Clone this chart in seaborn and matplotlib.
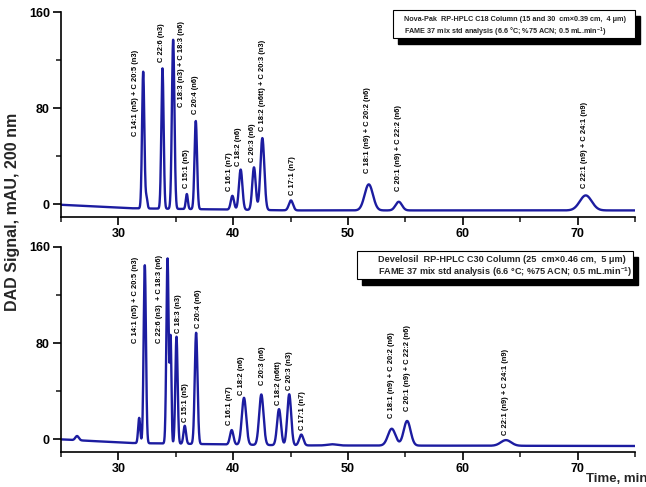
import numpy as np
import pandas as pd
import matplotlib
matplotlib.use("Agg")
import matplotlib.pyplot as plt
import seaborn as sns
from matplotlib.patches import Rectangle

# ---------------- data ----------------
# Top panel: Nova-Pak C18
top_rt = [32.16, 32.45, 33.84, 34.77, 35.96, 36.74, 39.93, 40.65, 41.81, 42.54, 45.03, 51.81, 54.42, 70.71]
top_height = [114, 9, 117, 141, 12.5, 73.5, 11.5, 33.5, 35.5, 60, 8.3, 21.7, 7.2, 12.5]
top_sigma = [0.10, 0.08, 0.10, 0.11, 0.09, 0.11, 0.14, 0.15, 0.15, 0.17, 0.18, 0.36, 0.28, 0.52]
top_base_t = [25, 31, 45, 75]
top_base_v = [-0.3, -3.2, -5.0, -5.0]

# Bottom panel: Develosil C30
bot_rt = [26.4, 31.81, 32.30, 34.28, 34.55, 35.06, 35.78, 36.77, 39.87, 40.94, 42.45, 43.99, 44.88, 45.93, 48.6, 53.81, 55.15, 63.76]
bot_height = [3.5, 21, 148, 154, 86, 89, 15, 92.5, 12, 39, 42, 30, 42.5, 9, 1.0, 14, 20.5, 4.7]
bot_sigma = [0.15, 0.09, 0.10, 0.10, 0.07, 0.10, 0.11, 0.12, 0.15, 0.19, 0.19, 0.17, 0.17, 0.18, 0.4, 0.33, 0.30, 0.45]
bot_base_t = [25, 31, 45, 75]
bot_base_v = [0.0, -3.0, -5.0, -5.5]

top_labels = ["C 14:1 (n5) + C 20:5 (n3)", "C 22:6 (n3)", "C 18:3 (n3) + C 18:3 (n6)", "C 15:1 (n5)",
              "C 20:4 (n6)", "C 16:1 (n7)", "C 18:2 (n6)", "C 20:3 (n6)",
              "C 18:2 (n6tt) + C 20:3 (n3)", "C 17:1 (n7)", "C 18:1 (n9) + C 20:2 (n6)",
              "C 20:1 (n9) + C 22:2 (n6)", "C 22:1 (n9) + C 24:1 (n9)"]
top_label_x = [31.52, 33.78, 35.52, 35.93, 36.74, 39.70, 40.50, 41.67, 42.54, 45.13, 51.67, 54.39, 70.63]
top_label_y = [57, 119, 81, 14, 75, 11, 32, 35, 61, 8, 26, 11, 14]

bot_labels = ["C 14:1 (n5) + C 20:5 (n3)", "C 22:6 (n3)  + C 18:3 (n6)", "C 18:3 (n3)", "C 15:1 (n5)",
              "C 20:4 (n6)", "C 16:1 (n7)", "C 18:2 (n6)", "C 20:3 (n6)", "C 18:2 (n6tt)",
              "C 20:3 (n3)", "C 17:1 (n7)", "C 18:1 (n9) + C 20:2 (n6)",
              "C 20:1 (n9) + C 22:2 (n6)", "C 22:1 (n9) + C 24:1 (n9)"]
bot_label_x = [31.50, 33.55, 35.20, 35.84, 36.97, 39.70, 40.71, 42.54, 43.98, 44.91, 46.02, 53.81, 55.15, 63.70]
bot_label_y = [80, 80, 88.6, 14.4, 92.5, 11.7, 36.7, 45, 28.3, 41.4, 8, 17.8, 24, 4]

top_box_lines = ["Nova-Pak  RP-HPLC C18 Column (15 and 30  cm\u00d70.39 cm,  4 \u03bcm)",
                 "FAME 37 mix std analysis (6.6 \u00b0C; %75 ACN; 0.5 mL.min$^{\\mathbf{-1}}$)"]
bot_box_lines = ["Develosil  RP-HPLC C30 Column (25  cm\u00d70.46 cm,  5 \u03bcm)",
                 "FAME 37 mix std analysis (6.6 \u00b0C; %75 ACN; 0.5 mL.min$^{\\mathbf{-1}}$)"]

x_ticks = [30, 40, 50, 60, 70]
x_minor = [25, 35, 45, 55, 65, 75]
y_ticks = [0, 80, 160]
y_minor = [40, 120]

# ---------------- styling ----------------
sns.set_theme(style="ticks")
plt.rcParams["font.family"] = ["Liberation Sans", "DejaVu Sans"]
plt.rcParams["mathtext.fontset"] = "custom"
plt.rcParams["mathtext.rm"] = "Liberation Sans"
plt.rcParams["mathtext.bf"] = "Liberation Sans:bold"

LINE = "#1c1ca0"
W, H = 646, 487
fig = plt.figure(figsize=(6.46, 4.87), dpi=100)

def fx(px):
    return px / W

def fy(py):
    return 1 - py / H

ax_top = fig.add_axes([fx(61), fy(217), fx(635 - 61), (217 - 12.5) / H])
ax_bot = fig.add_axes([fx(61), fy(452), fx(635 - 61), (452 - 247) / H])

t = np.linspace(25, 75, 6001)

def chrom(rt, hh, ss, bt, bv):
    y = np.interp(t, bt, bv)
    for r, h, s in zip(rt, hh, ss):
        y = y + h * np.exp(-0.5 * ((t - r) / s) ** 2)
    return y

df_top = pd.DataFrame({"time": t, "signal": chrom(top_rt, top_height, top_sigma, top_base_t, top_base_v)})
df_bot = pd.DataFrame({"time": t, "signal": chrom(bot_rt, bot_height, bot_sigma, bot_base_t, bot_base_v)})

for ax, df, labs, lx, ly in [(ax_top, df_top, top_labels, top_label_x, top_label_y),
                             (ax_bot, df_bot, bot_labels, bot_label_x, bot_label_y)]:
    sns.lineplot(data=df, x="time", y="signal", ax=ax, color=LINE, linewidth=1.7)
    ax.set_xlim(25, 75)
    ax.set_ylim(-10.5, 160)
    ax.set_xlabel("")
    ax.set_ylabel("")
    ax.set_xticks(x_ticks)
    ax.set_xticks(x_minor, minor=True)
    ax.set_yticks(y_ticks)
    ax.set_yticks(y_minor, minor=True)
    ax.tick_params(axis="both", which="major", length=6, width=1.2, direction="out",
                   labelsize=9, pad=2, colors="black")
    ax.tick_params(axis="both", which="minor", length=3.5, width=1.2, direction="out")
    for lab in ax.get_xticklabels() + ax.get_yticklabels():
        lab.set_fontweight("bold")
    for s in ["top", "right"]:
        ax.spines[s].set_visible(False)
    for s in ["left", "bottom"]:
        ax.spines[s].set_linewidth(1.2)
        ax.spines[s].set_color("black")
    ax.patch.set_alpha(0)
    for txt, x, y in zip(labs, lx, ly):
        ax.text(x, y, txt, rotation=90, ha="center", va="bottom", fontsize=5.4,
                fontweight="bold", color="black")

def info_box(x0, y0, x1, y1, lines, tx, ty, fs):
    sh = 5
    fig.patches.append(Rectangle((fx(x0 + sh), fy(y1 + sh + 1)), fx(x1 - x0), (y1 - y0) / H,
                                 transform=fig.transFigure, facecolor="black", edgecolor="black", zorder=5))
    fig.patches.append(Rectangle((fx(x0), fy(y1)), fx(x1 - x0), (y1 - y0) / H,
                                 transform=fig.transFigure, facecolor="white", edgecolor="black",
                                 linewidth=0.8, zorder=6))
    for line, yy in zip(lines, ty):
        fig.text(fx(tx), fy(yy), line, ha="left", va="center", fontsize=fs,
                 fontweight="bold", zorder=7)

info_box(393, 10, 635, 38, top_box_lines, 404, [19.5, 32.5], 5.2)
info_box(357, 251, 633, 279, bot_box_lines, 378, [259, 272.5], 6.6)

fig.text(fx(13), fy(212), "DAD Signal, mAU, 200 nm", rotation=90, ha="center", va="center",
         fontsize=11.5, fontweight="bold")
fig.text(fx(586), fy(485.5), "Time, min", ha="left", va="bottom", fontsize=9.5, fontweight="bold")

fig.savefig("out.png", dpi=100)
